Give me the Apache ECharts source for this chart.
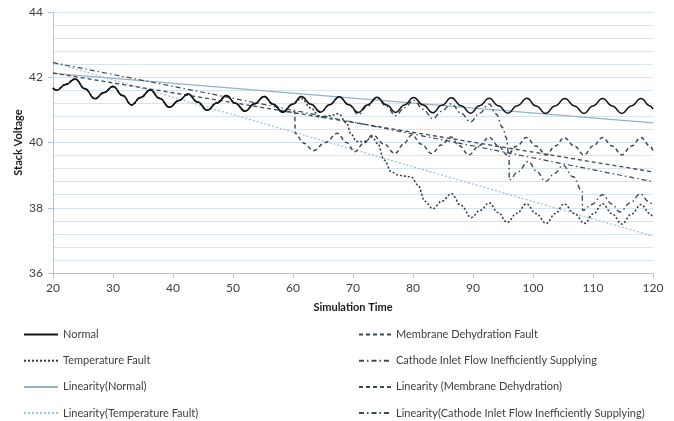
<!DOCTYPE html>
<html><head><meta charset="utf-8">
<script src="https://cdn.jsdelivr.net/npm/echarts@6/dist/echarts.min.js"></script>
<style>html,body{margin:0;padding:0;background:#fff}#c{width:674px;height:421px}</style>
</head><body><div id="c"></div>
<script>
// Simulation time ticks and voltage ticks
const xTicks = [20, 30, 40, 50, 60, 70, 80, 90, 100, 110, 120];
const yTicks = [36, 38, 40, 42, 44];

// Normal stack voltage [time, voltage]
const normal = [[20.0,41.67],[20.6,41.60],[22.1,41.78],[23.7,41.95],[25.3,41.65],[27.0,41.34],[28.5,41.53],[30.0,41.72],[31.6,41.44],[33.1,41.15],[34.6,41.38],[36.2,41.61],[37.8,41.35],[39.4,41.08],[41.0,41.29],[42.5,41.49],[44.1,41.24],[45.7,40.99],[47.3,41.21],[48.9,41.44],[50.4,41.20],[52.0,40.96],[53.6,41.19],[55.2,41.41],[56.7,41.17],[58.3,40.93],[59.9,41.17],[61.4,41.41],[63.0,41.17],[64.6,40.93],[66.1,41.16],[67.7,41.40],[69.3,41.16],[70.9,40.92],[72.4,41.15],[74.0,41.39],[75.6,41.15],[77.1,40.92],[78.6,41.15],[80.1,41.38],[81.7,41.15],[83.3,40.91],[84.8,41.14],[86.4,41.37],[88.0,41.13],[89.6,40.90],[91.1,41.13],[92.7,41.36],[94.2,41.13],[95.8,40.90],[97.4,41.13],[99.0,41.36],[100.5,41.12],[102.1,40.89],[103.7,41.12],[105.3,41.35],[106.9,41.12],[108.5,40.89],[110.0,41.12],[111.6,41.35],[113.2,41.12],[114.8,40.89],[116.4,41.12],[118.0,41.35],[119.5,41.12],[120.0,41.02]];

// Fault series: identical to normal until they deviate, then these readings
const tempFaultTail = [[61.4,41.35],[63.0,41.05],[64.5,40.78],[66.1,40.82],[67.6,40.88],[68.9,40.60],[69.7,40.25],[70.6,40.03],[71.9,40.03],[73.2,40.17],[74.1,39.97],[75.2,39.46],[76.4,39.10],[77.5,39.00],[78.6,38.97],[79.7,38.95],[80.8,38.70],[82.0,38.20],[83.3,37.97],[84.8,38.20],[86.4,38.43],[88.0,38.07],[89.7,37.70],[91.2,37.92],[92.7,38.15],[94.2,37.85],[95.7,37.55],[97.3,37.83],[98.9,38.12],[100.5,37.82],[102.2,37.52],[103.7,37.82],[105.2,38.12],[106.9,37.82],[108.6,37.52],[110.1,37.82],[111.6,38.12],[113.2,37.81],[114.8,37.50],[116.4,37.80],[118.0,38.10],[119.5,37.82],[120.0,37.68]];
const membraneTail = [[59.5,40.95],[60.3,40.94],[60.35,40.28],[61.8,39.98],[63.4,39.75],[65.4,40.00],[67.4,40.28],[68.9,40.00],[70.3,39.72],[71.8,39.98],[73.3,40.23],[75.2,39.95],[77.0,39.66],[78.4,39.95],[79.8,40.23],[81.4,39.95],[83.1,39.66],[84.7,39.92],[86.3,40.17],[87.7,39.90],[89.3,39.62],[91.0,39.90],[92.7,40.16],[94.2,39.90],[95.7,39.62],[97.3,39.89],[98.9,40.15],[100.5,39.89],[102.2,39.62],[103.7,39.89],[105.2,40.15],[106.9,39.89],[108.5,39.62],[110.0,39.89],[111.6,40.15],[113.2,39.89],[114.8,39.62],[116.4,39.89],[118.0,40.15],[119.5,39.89],[120.0,39.75]];
const cathodeTail = [[70.9,40.86],[72.4,41.12],[74.0,41.37],[75.6,41.10],[77.1,40.82],[78.6,41.07],[80.1,41.30],[81.7,41.02],[83.3,40.73],[84.8,40.96],[86.4,41.19],[88.0,40.90],[89.6,40.63],[91.1,40.90],[92.7,41.18],[93.8,40.88],[95.0,40.45],[95.5,40.16],[96.0,39.60],[96.05,38.85],[97.5,39.10],[99.2,39.42],[100.7,39.10],[102.1,38.80],[103.6,39.05],[105.0,39.30],[106.7,38.95],[108.2,38.50],[108.25,37.92],[109.8,38.10],[111.6,38.40],[113.1,38.12],[114.5,37.87],[116.2,38.15],[117.9,38.43],[119.2,38.20],[120.0,38.05]];

// Linear trend lines [time, voltage] at both ends
const linNormal = [[20,42.12],[120,40.60]];
const linTemp = [[20,42.45],[120,37.13]];
const linMembrane = [[20,42.13],[120,39.10]];
const linCathode = [[20,42.45],[120,38.80]];

const names = ['Normal','Temperature Fault','Linearity(Normal)','Linearity(Temperature Fault)',
  'Membrane Dehydration Fault','Cathode Inlet Flow Inefficiently Supplying','Linearity (Membrane Dehydration)','Linearity(Cathode Inlet Flow Inefficiently Supplying)'];

const tempFault = normal.slice(0, 27).concat(tempFaultTail);
const membrane = normal.slice(0, 26).concat(membraneTail);
const cathode = normal.slice(0, 33).concat(cathodeTail);

const FONT = 'Lato, "Open Sans", sans-serif';
const chart = echarts.init(document.getElementById('c'), null, {renderer: 'canvas'});

function ln(name, data, color, type, width, z, smooth) {
  return {
    name, type: 'line', data, z,
    showSymbol: false, symbol: 'none', smooth: smooth, smoothMonotone: 'x',
    lineStyle: {color, type, width},
    itemStyle: {color},
    emphasis: {disabled: true}, animation: false
  };
}

const legendCommon = {
  orient: 'vertical', itemHeight: 11, itemGap: 15.2, padding: 0, height: 100,
  itemStyle: {opacity: 0, borderWidth: 0},
  textStyle: {fontFamily: FONT, fontSize: 11, color: '#404040'}
};

chart.setOption({
  backgroundColor: '#ffffff',
  animation: false,
  grid: {left: 53, right: 21, top: 12, bottom: 148},
  legend: [
    Object.assign({}, legendCommon, {left: 23, top: 329, itemWidth: 34, data: names.slice(0, 4)}),
    Object.assign({}, legendCommon, {left: 358, top: 329, itemWidth: 32, data: names.slice(4)})
  ],
  xAxis: {
    type: 'value', min: xTicks[0], max: xTicks[xTicks.length - 1], interval: 10,
    name: 'Simulation Time', nameLocation: 'middle', nameGap: 29, nameMoveOverlap: false,
    nameTextStyle: {fontFamily: FONT, fontSize: 11, fontWeight: 'bold', color: '#1a1a1a'},
    axisLine: {show: true, lineStyle: {color: '#a9c6dc', width: 1}},
    axisTick: {show: true, length: 5, lineStyle: {color: '#a9c6dc'}},
    axisLabel: {fontFamily: FONT, fontSize: 12, color: '#404040', margin: 9},
    splitLine: {show: false}
  },
  yAxis: {
    type: 'value', min: yTicks[0], max: yTicks[yTicks.length - 1], interval: 2,
    name: 'Stack Voltage', nameLocation: 'middle', nameGap: 29, nameRotate: 90, nameMoveOverlap: false,
    nameTextStyle: {fontFamily: FONT, fontSize: 11, fontWeight: 'bold', color: '#1a1a1a'},
    axisLine: {show: true, lineStyle: {color: '#a9c6dc', width: 1}},
    axisTick: {show: true, length: 5, lineStyle: {color: '#a9c6dc'}},
    axisLabel: {fontFamily: FONT, fontSize: 12, color: '#404040', margin: 10},
    splitLine: {show: true, lineStyle: {color: '#d5e5f1', width: 1}},
    minorTick: {show: false, splitNumber: 5},
    minorSplitLine: {show: true, lineStyle: {color: '#d5e5f1', width: 1}}
  },
  series: [
    ln(names[0], normal, '#161616', 'solid', 1.5, 10, 0.5),
    ln(names[1], tempFault, '#2e3a42', [2, 2], 1.5, 6, 0.4),
    ln(names[2], linNormal, '#93b2c8', 'solid', 1.2, 3, false),
    ln(names[3], linTemp, '#96c0dc', [2, 2], 1.2, 3, false),
    ln(names[4], membrane, '#3b4a55', [4, 3], 1.5, 5, 0.4),
    ln(names[5], cathode, '#3b4a55', [5, 3, 1.5, 3], 1.4, 4, 0.4),
    ln(names[6], linMembrane, '#3b4a55', [4, 3], 1.3, 3, false),
    ln(names[7], linCathode, '#3b4a55', [5, 3, 1.5, 3], 1.2, 3, false)
  ]
});
</script>
</body></html>
